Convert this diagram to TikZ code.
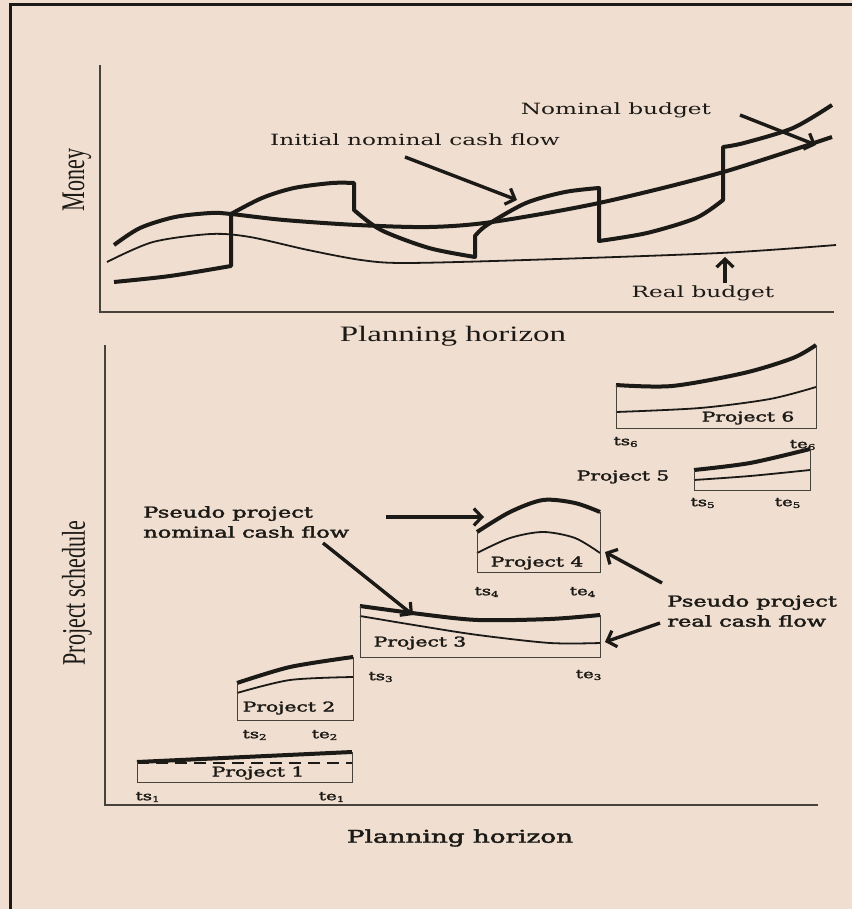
\documentclass[tikz,border=0pt]{standalone}
\usepackage{fontspec}
\setmainfont{Liberation Serif}
\newfontfamily\labelfont{DejaVu Serif}
\newfontfamily\semifont[FakeBold=2]{DejaVu Serif}
\usetikzlibrary{arrows.meta}

\definecolor{paper}{RGB}{240,222,208}
\definecolor{ink}{RGB}{28,26,22}
\definecolor{axisgray}{RGB}{70,66,60}

\tikzset{
  txt/.style={inner sep=0pt, text=ink, xscale=1.5},
  axislbl/.style={txt, font=\fontsize{22}{24}\selectfont},
  cashlbl/.style={txt, font=\fontsize{15.5}{18}\selectfont\labelfont},
  projlbl/.style={txt, font=\fontsize{13.5}{16}\selectfont\semifont},
  timelbl/.style={txt, font=\fontsize{12}{13}\selectfont\semifont},
  axisline/.style={axisgray, line width=1.2pt},
  thickflow/.style={ink, line width=4pt, line join=round},
  thinflow/.style={ink, line width=1.8pt},
  boxline/.style={axisgray, line width=1pt},
  pointer/.style={ink, line width=3.4pt, -{Straight Barb[length=8pt,width=17pt,line width=3.2pt]}}
}

\begin{document}
\begin{tikzpicture}[x=1pt,y=-1pt]
\fill[paper] (0,0) rectangle (852,909);
\useasboundingbox (0,0) rectangle (852,909);
\draw[ink,line width=3pt] (10,909) -- (10,5) -- (852,5);

% upper chart: money against the planning horizon
\coordinate (m0) at (100,65);
\coordinate (m1) at (100,312);
\coordinate (m2) at (834,312);
\draw[axisline] (m0) -- (m1) -- (m2);
\node[axislbl,rotate=90] (money) at (77,180) {Money};
\node[axislbl] (hor1) at (453,336) {Planning horizon};

\draw[thinflow] plot[smooth] coordinates {(107,262) (153,242) (211,234) (250,237)
  (308,250) (361,260) (405,263) (526,260) (720,253) (836,245)};
\draw[thickflow] plot[smooth] coordinates {(114,245) (140,228) (175,217) (211,213) (231,214)
  (284,220) (357,225) (429,227) (492,222) (599,203) (720,173) (832,137)};
\draw[thickflow] plot[smooth] coordinates {(114,282) (170,276) (231,266)}
  -- plot[smooth] coordinates {(231,214) (262,198) (294,188) (332,183) (354,183)}
  -- plot[smooth] coordinates {(354,210) (381,230) (429,248) (475,257)}
  -- plot[smooth] coordinates {(475,236) (487,225) (526,203) (565,192) (599,188)}
  -- plot[smooth] coordinates {(599,241) (647,233) (696,218) (723,200)}
  -- plot[smooth] coordinates {(723,147) (744,143) (793,128) (832,105)};

\node[cashlbl] (initlbl) at (415,140) {Initial nominal cash flow};
\node[cashlbl] (nomlbl) at (616,110) {Nominal budget};
\node[cashlbl] (reallbl) at (703,293) {Real budget};
\coordinate (initfrom) at (405,157);
\coordinate (initto) at (517,200);
\coordinate (nomfrom) at (740,115);
\coordinate (nomto) at (816,145);
\coordinate (realfrom) at (725,283);
\coordinate (realto) at (725,257);
\draw[pointer] (initfrom) -- (initto);
\draw[pointer] (nomfrom) -- (nomto);
\draw[pointer] (realfrom) -- (realto);

% lower chart: project schedule
\coordinate (s0) at (105,345);
\coordinate (s1) at (105,805);
\coordinate (s2) at (818,805);
\draw[axisline] (s0) -- (s1) -- (s2);
\node[axislbl,rotate=90] (sched) at (77,593) {Project schedule};
\node[txt,font=\fontsize{17.5}{20}\selectfont\semifont] (hor2) at (460,838) {Planning horizon};

% project 6
\draw[thickflow] plot[smooth] coordinates {(616,385) (672,386) (744,373) (793,358) (816,345)};
\draw[thinflow] plot[smooth] coordinates {(616,412) (700,408) (770,399) (816,387)};
\draw[boxline] (616,385) -- (616,428) -- (816,428) -- (816,345);
\node[projlbl] (p6) at (748,418) {Project 6};
\node[timelbl] (ts6) at (626,442) {ts\textsubscript{6}};
\node[timelbl] (te6) at (803,445) {te\textsubscript{6}};

% project 5
\draw[thickflow] plot[smooth] coordinates {(694,470) (750,463) (810,449)};
\draw[thinflow] plot[smooth] coordinates {(694,480) (750,476) (810,470)};
\draw[boxline] (694,470) -- (694,490) -- (810,490) -- (810,449);
\node[projlbl] (p5) at (623,477) {Project 5};
\node[timelbl] (ts5) at (703,503) {ts\textsubscript{5}};
\node[timelbl] (te5) at (788,503) {te\textsubscript{5}};

% project 4
\draw[thickflow] plot[smooth] coordinates {(477,532) (510,512) (543,500) (575,503) (600,512)};
\draw[thinflow] plot[smooth] coordinates {(477,553) (510,538) (543,532) (575,538) (600,553)};
\draw[boxline] (477,532) -- (477,572) -- (600,572) -- (600,512);
\node[projlbl] (p4) at (537,563) {Project 4};
\node[timelbl] (ts4) at (487,592) {ts\textsubscript{4}};
\node[timelbl] (te4) at (583,592) {te\textsubscript{4}};

% project 3
\draw[thickflow] plot[smooth] coordinates {(360,606) (420,614) (478,620) (550,619) (600,615)};
\draw[thinflow] plot[smooth] coordinates {(360,616) (420,626) (478,635) (550,643) (600,643)};
\draw[boxline] (360,606) -- (360,657) -- (600,657) -- (600,615);
\node[projlbl] (p3) at (420,643) {Project 3};
\node[timelbl] (ts3) at (381,677) {ts\textsubscript{3}};
\node[timelbl] (te3) at (589,675) {te\textsubscript{3}};

% project 2
\draw[thickflow] plot[smooth] coordinates {(237,683) (290,667) (353,657)};
\draw[thinflow] plot[smooth] coordinates {(237,693) (290,680) (353,677)};
\draw[boxline] (237,683) -- (237,720) -- (353,720) -- (353,657);
\node[projlbl] (p2) at (289,708) {Project 2};
\node[timelbl] (ts2) at (255,735) {ts\textsubscript{2}};
\node[timelbl] (te2) at (325,735) {te\textsubscript{2}};

% project 1
\draw[ink,line width=2pt,dash pattern=on 12pt off 7pt] (137,763) -- (352,763);
\draw[thickflow] (137,762) -- (352,752);
\draw[boxline] (137,762) -- (137,782) -- (352,782) -- (352,752);
\node[projlbl] (p1) at (258,773) {Project 1};
\node[timelbl] (ts1) at (148,797) {ts\textsubscript{1}};
\node[timelbl] (te1) at (332,797) {te\textsubscript{1}};

% pseudo project labels
\node[projlbl,anchor=west,align=left,font=\fontsize{15}{20}\selectfont\semifont] (nomflow) at (143,522) {Pseudo project\\nominal cash flow};
\node[projlbl,anchor=west,align=left,font=\fontsize{15}{20}\selectfont\semifont] (realflow) at (667,611) {Pseudo project\\real cash flow};
\coordinate (nf1) at (386,517);
\coordinate (nt1) at (484,517);
\coordinate (nf2) at (323,543);
\coordinate (nt2) at (413,615);
\coordinate (rf1) at (662,583);
\coordinate (rt1) at (605,552);
\coordinate (rf2) at (660,623);
\coordinate (rt2) at (605,642);
\draw[pointer] (nf1) -- (nt1);
\draw[pointer] (nf2) -- (nt2);
\draw[pointer] (rf1) -- (rt1);
\draw[pointer] (rf2) -- (rt2);
\end{tikzpicture}
\end{document}
